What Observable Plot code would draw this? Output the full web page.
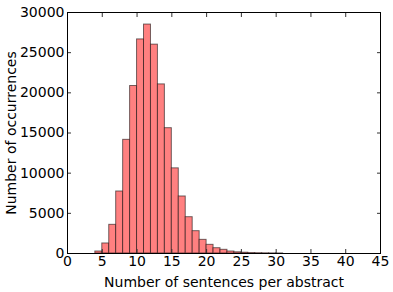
<!DOCTYPE html>
<html>
<head>
<meta charset="utf-8">
<script src="https://cdn.jsdelivr.net/npm/d3@7"></script>
<script src="https://cdn.jsdelivr.net/npm/@observablehq/plot@0.6"></script>
<style>
  html, body { margin: 0; padding: 0; background: #fff; }
  #chart svg { font-family: "DejaVu Sans", sans-serif; }
</style>
</head>
<body>
<div id="chart"></div>
<script>
// Histogram: number of sentences per abstract (bin left edges, width 1)
const binStarts = [4, 5, 6, 7, 8, 9, 10, 11, 12, 13, 14, 15, 16, 17, 18, 19, 20, 21, 22, 23, 24, 25, 26, 27, 28, 29, 30];
const counts = [250, 1250, 3570, 7720, 14150, 20850, 26650, 28500, 26000, 21050, 15600, 10600, 7100, 4520, 2780, 1700, 1080, 660, 460, 250, 150, 100, 60, 40, 25, 15, 10];
const xTicks = [0, 5, 10, 15, 20, 25, 30, 35, 40, 45];
const yTicks = [0, 5000, 10000, 15000, 20000, 25000, 30000];
const xLabel = "Number of sentences per abstract";
const yLabel = "Number of occurrences";

const data = binStarts.map((b, i) => ({x1: b, x2: b + 1, y: counts[i]}));

const chart = Plot.plot({
  width: 393,
  height: 292,
  marginLeft: 67,
  marginRight: 13,
  marginTop: 12,
  marginBottom: 39,
  style: {fontFamily: "DejaVu Sans, sans-serif", fontSize: "14px", color: "#000", background: "#fff"},
  x: {domain: [0, 45]},
  y: {domain: [0, 30000]},
  marks: [
    Plot.rectY(data, {x1: "x1", x2: "x2", y: "y", fill: "#ff8080", stroke: "#000", strokeOpacity: 0.55, strokeWidth: 1, inset: 0}),
    Plot.axisX({anchor: "bottom", ticks: xTicks, tickSize: 0, tickPadding: 3, tickFormat: d => String(d), fontSize: 14, label: xLabel, labelAnchor: "center", labelArrow: "none", labelOffset: 33}),
    Plot.axisX({anchor: "bottom", ticks: xTicks, tickSize: -4, text: null, label: null, stroke: "#333"}),
    Plot.axisX({anchor: "top", ticks: xTicks, tickSize: -4, text: null, label: null, stroke: "#333"}),
    Plot.axisY({anchor: "left", ticks: yTicks, tickSize: 0, tickPadding: 3, tickFormat: d => String(d), fontSize: 14, label: yLabel, labelAnchor: "center", labelArrow: "none", labelOffset: 61}),
    Plot.axisY({anchor: "left", ticks: yTicks, tickSize: -4, text: null, label: null, stroke: "#333"}),
    Plot.axisY({anchor: "right", ticks: yTicks, tickSize: -4, text: null, label: null, stroke: "#333"}),
    Plot.frame({stroke: "#000", strokeWidth: 1})
  ]
});
document.getElementById("chart").appendChild(chart);
</script>
</body>
</html>
